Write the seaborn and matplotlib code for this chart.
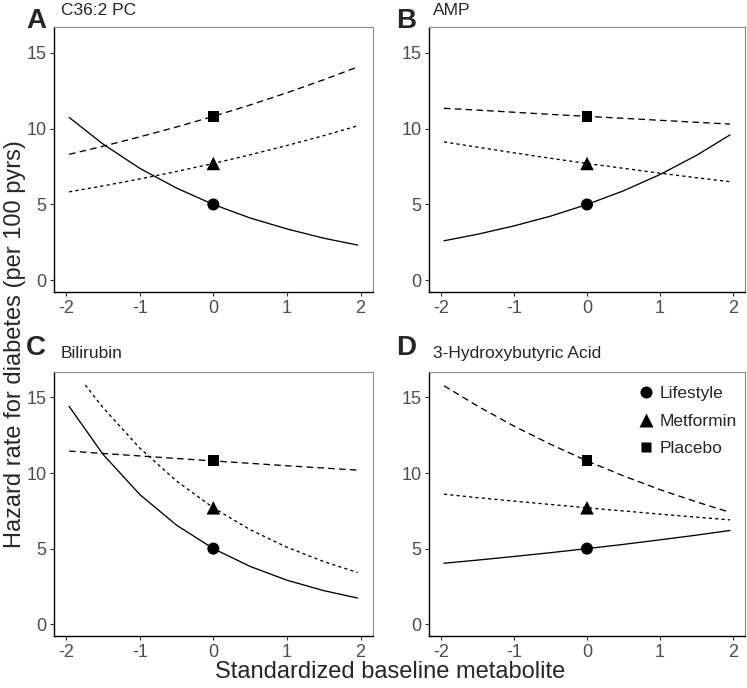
import matplotlib
matplotlib.use("Agg")
import matplotlib.pyplot as plt
import numpy as np
import pandas as pd
import seaborn as sns

# estimated hazard rates (per 100 pyrs)
x_vals = [-1.96, -1.5, -1.0, -0.5, 0.0, 0.5, 1.0, 1.5, 1.96]
x_bili_met = [-1.74, -1.5, -1.0, -0.5, 0.0, 0.5, 1.0, 1.5, 1.96]

groups = ["Lifestyle", "Metformin", "Placebo"]
rate_at_mean = [5.0, 7.7, 10.8]

titles = ["C36:2 PC", "AMP", "Bilirubin", "3-Hydroxybutyric Acid"]
letters = ["A", "B", "C", "D"]

pc_life = [10.73, 8.98, 7.38, 6.08, 5.0, 4.11, 3.39, 2.78, 2.33]
pc_met = [5.83, 6.22, 6.68, 7.17, 7.7, 8.27, 8.88, 9.53, 10.18]
pc_plac = [8.30, 8.83, 9.45, 10.10, 10.8, 11.55, 12.35, 13.21, 14.05]

amp_life = [2.61, 3.04, 3.59, 4.23, 5.0, 5.90, 6.97, 8.23, 9.58]
amp_met = [9.12, 8.77, 8.40, 8.04, 7.7, 7.38, 7.06, 6.76, 6.50]
amp_plac = [11.33, 11.21, 11.07, 10.93, 10.8, 10.67, 10.54, 10.41, 10.29]

bili_life = [14.41, 11.24, 8.58, 6.55, 5.0, 3.82, 2.91, 2.22, 1.73]
bili_met = [15.82, 14.33, 11.65, 9.47, 7.7, 6.25, 5.09, 4.14, 3.42]
bili_plac = [11.45, 11.29, 11.13, 10.96, 10.8, 10.64, 10.48, 10.33, 10.19]

hba_life = [4.03, 4.24, 4.48, 4.73, 5.0, 5.28, 5.58, 5.89, 6.20]
hba_met = [8.60, 8.37, 8.14, 7.92, 7.7, 7.49, 7.28, 7.08, 6.90]
hba_plac = [15.77, 14.43, 13.10, 11.90, 10.8, 9.81, 8.90, 8.09, 7.40]

curves = [
    [(x_vals, pc_life), (x_vals, pc_met), (x_vals, pc_plac)],
    [(x_vals, amp_life), (x_vals, amp_met), (x_vals, amp_plac)],
    [(x_vals, bili_life), (x_bili_met, bili_met), (x_vals, bili_plac)],
    [(x_vals, hba_life), (x_vals, hba_met), (x_vals, hba_plac)],
]

sns.set_style("ticks")
plt.rcParams["font.family"] = ["Liberation Sans", "DejaVu Sans"]
plt.rcParams["axes.unicode_minus"] = False

W, H = 747, 688
fig = plt.figure(figsize=(W / 100, H / 100), dpi=100)

# panel boxes in pixels: left, right, top, bottom
boxes = [(54, 372.7, 26.7, 292.3), (429, 745, 26.7, 292.3),
         (54, 372.7, 371.7, 636), (429, 745, 371.7, 636)]
letter_pos = [(26, 28), (396, 28), (26, 355), (396, 355)]
title_pos = [(61, 15), (433, 15), (61, 358), (433, 358)]

dash_map = {"Lifestyle": "", "Metformin": (2.4, 2.4), "Placebo": (5.0, 3.2)}
marker_map = {"Lifestyle": "o", "Metformin": "^", "Placebo": "s"}
size_map = {"Lifestyle": 75, "Metformin": 95, "Placebo": 62}

for i in range(4):
    l, r, t, b = boxes[i]
    ax = fig.add_axes([l / W, 1 - b / H, (r - l) / W, (b - t) / H])

    rows = []
    for g, (xs, ys) in zip(groups, curves[i]):
        for xv, yv in zip(xs, ys):
            rows.append({"x": xv, "rate": yv, "group": g})
    df = pd.DataFrame(rows)
    pts = pd.DataFrame({"x": [0.0] * 3, "rate": rate_at_mean, "group": groups})

    sns.lineplot(data=df, x="x", y="rate", style="group", style_order=groups,
                 dashes=dash_map, color="black", linewidth=0.95,
                 estimator=None, legend=False, ax=ax)
    sns.scatterplot(data=pts, x="x", y="rate", style="group", style_order=groups,
                    markers=marker_map, size="group", sizes=size_map,
                    color="black", edgecolor="none", legend=(i == 3), ax=ax,
                    zorder=3)

    ax.set_xlim(-2.165, 2.165)
    ax.set_ylim(-0.78, 16.7)
    ax.set_xticks([-2, -1, 0, 1, 2])
    ax.set_yticks([0, 5, 10, 15])
    ax.set_xlabel("")
    ax.set_ylabel("")
    for s in ["left", "bottom"]:
        ax.spines[s].set_color("black")
        ax.spines[s].set_linewidth(1.0)
    for s in ["top", "right"]:
        ax.spines[s].set_visible(True)
        ax.spines[s].set_color("#8a8a8a")
        ax.spines[s].set_linewidth(0.8)
    ax.tick_params(length=3, width=0.8, color="#333333", labelcolor="#4D4D4D",
                   labelsize=13, pad=2.5)

    if i == 3:
        old = ax.get_legend()
        handles = old.legend_handles
        labels = [txt.get_text() for txt in old.get_texts()]
        old.remove()
        ax.legend(handles, labels, loc="upper right",
                  bbox_to_anchor=(0.975, 0.945), frameon=False,
                  fontsize=12.5, handlelength=1.0, handletextpad=0.3,
                  labelspacing=0.7, borderpad=0, borderaxespad=0)

    lx, ly = letter_pos[i]
    fig.text(lx / W, 1 - ly / H, letters[i], fontsize=20, fontweight="bold",
             ha="left", va="baseline")
    tx, ty = title_pos[i]
    fig.text(tx / W, 1 - ty / H, titles[i], fontsize=12.5, ha="left",
             va="baseline")

fig.text(0.02, 0.5, "Hazard rate for diabetes (per 100 pyrs)", rotation=90,
         fontsize=17, ha="center", va="center")
fig.text(0.522, 0.023, "Standardized baseline metabolite", fontsize=17,
         ha="center", va="center")

fig.savefig("out.png", dpi=100)
